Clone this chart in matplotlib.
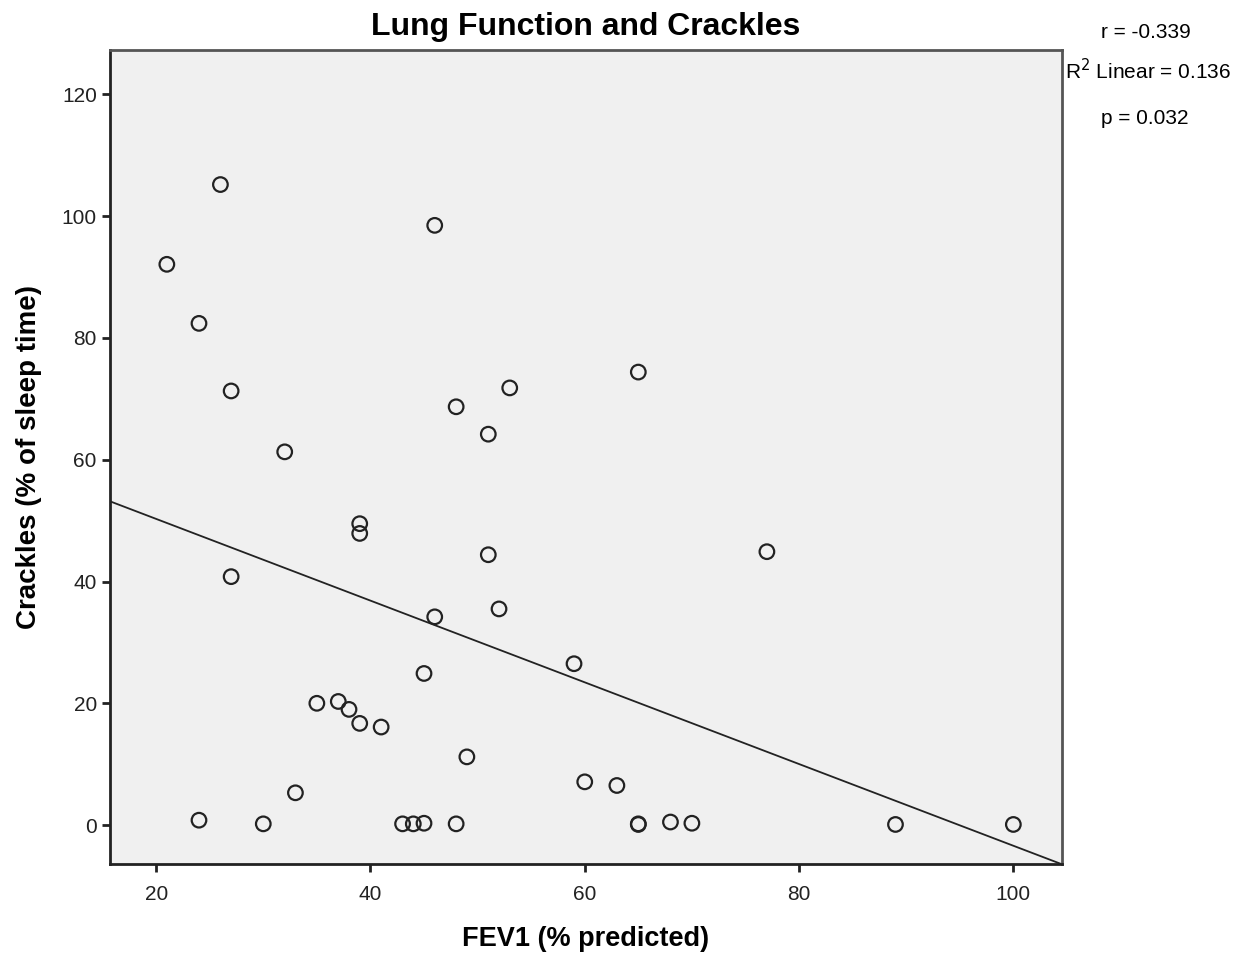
import numpy as np
import matplotlib
matplotlib.use("Agg")
import matplotlib.pyplot as plt

plt.rcParams['font.family'] = ['Liberation Sans', 'DejaVu Sans']

# FEV1 (% predicted) and crackles (% of sleep time)
fev1 = [26, 21, 24, 27, 32, 46, 48, 53, 51, 65,
        39, 39, 27, 51, 77, 46, 52, 59, 45, 35,
        37, 38, 39, 41, 49, 60, 63, 33, 24, 30,
        43, 44, 45, 48, 65, 65, 68, 70, 89, 100]
crackles = [105.2, 92.1, 82.4, 71.3, 61.3, 98.5, 68.7, 71.8, 64.2, 74.4,
            49.5, 47.9, 40.8, 44.4, 44.9, 34.2, 35.5, 26.5, 24.9, 20.0,
            20.3, 19.0, 16.7, 16.1, 11.2, 7.1, 6.5, 5.3, 0.8, 0.2,
            0.2, 0.2, 0.3, 0.2, 0.2, 0.1, 0.5, 0.3, 0.1, 0.1]

title = "Lung Function and Crackles"
xlabel = "FEV1 (% predicted)"
ylabel = "Crackles (% of sleep time)"
stats = ["r = -0.339", "R$^2$ Linear = 0.136", "p = 0.032"]

x = np.array(fev1)
y = np.array(crackles)

fig = plt.figure(figsize=(12.52, 9.56), dpi=100)
ax = fig.add_axes([0.0879, 0.0962, 0.760, 0.8515])
ax.set_facecolor('#f0f0f0')

ax.scatter(x, y, s=110, facecolors='none', edgecolors='#222222', linewidths=1.6, zorder=3)

xlim = (15.7, 104.5)
slope, intercept = np.polyfit(x, y, 1)
xs = np.array(xlim)
ax.plot(xs, intercept + slope * xs, color='#222222', linewidth=1.3, zorder=2)

ax.set_xlim(*xlim)
ax.set_ylim(-6.4, 127.3)
ax.set_xticks([20, 40, 60, 80, 100])
ax.set_yticks([0, 20, 40, 60, 80, 100, 120])
ax.tick_params(labelsize=15, length=6, width=2, color='#222222', labelcolor='#222222')
ax.tick_params(axis='x', pad=9)

for side in ['left', 'bottom']:
    ax.spines[side].set_linewidth(2)
    ax.spines[side].set_color('#222222')
for side in ['top', 'right']:
    ax.spines[side].set_linewidth(2)
    ax.spines[side].set_color('#555555')

ax.set_title(title, fontsize=23, fontweight='bold', pad=11)
ax.set_xlabel(xlabel, fontsize=19.5, fontweight='bold', labelpad=16)
ax.set_ylabel(ylabel, fontsize=20, fontweight='bold', labelpad=14)

fig.text(1146 / 1252, 1 - 32 / 956, stats[0], fontsize=15, ha='center', va='center')
fig.text(1148 / 1252, 1 - 71 / 956, stats[1], fontsize=15, ha='center', va='center')
fig.text(1145 / 1252, 1 - 118 / 956, stats[2], fontsize=15, ha='center', va='center')

fig.savefig("out.png", dpi=100)
